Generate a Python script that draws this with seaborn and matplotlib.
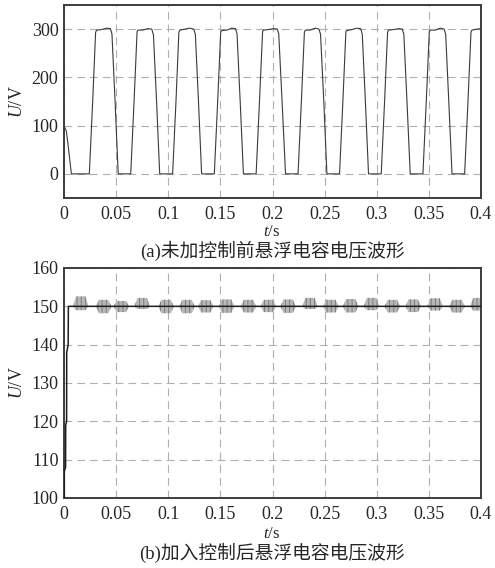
import numpy as np
import matplotlib
matplotlib.use("Agg")
import matplotlib.pyplot as plt
import seaborn as sns
import pandas as pd

# (a) waveform vertices: time in s, voltage in V
t_a = [0.0000, 0.0023, 0.0039, 0.0070, 0.0075,
       0.0243, 0.0275, 0.0303, 0.0312, 0.0360, 0.0410, 0.0445, 0.0460, 0.0490, 0.0520,
       0.0640, 0.0672, 0.0701, 0.0710, 0.0755, 0.0805, 0.0842, 0.0858, 0.0888, 0.0918,
       0.1042, 0.1074, 0.1102, 0.1112, 0.1160, 0.1208, 0.1244, 0.1260, 0.1290, 0.1320,
       0.1442, 0.1474, 0.1503, 0.1512, 0.1562, 0.1610, 0.1645, 0.1660, 0.1690, 0.1721,
       0.1843, 0.1875, 0.1905, 0.1913, 0.1960, 0.2010, 0.2046, 0.2060, 0.2092, 0.2125,
       0.2245, 0.2277, 0.2306, 0.2315, 0.2362, 0.2410, 0.2446, 0.2461, 0.2492, 0.2522,
       0.2643, 0.2675, 0.2704, 0.2713, 0.2760, 0.2810, 0.2846, 0.2861, 0.2891, 0.2921,
       0.3043, 0.3075, 0.3104, 0.3113, 0.3160, 0.3210, 0.3245, 0.3260, 0.3290, 0.3321,
       0.3443, 0.3475, 0.3504, 0.3513, 0.3560, 0.3610, 0.3646, 0.3661, 0.3691, 0.3722,
       0.3843, 0.3875, 0.3904, 0.3913, 0.3960, 0.4000]
u_a = [100, 88, 60, 2, 0,
       0, 150, 293, 298, 299, 302, 301, 290, 150, 0,
       0, 150, 295, 298, 298, 301, 300, 288, 150, 0,
       0, 150, 294, 298, 300, 302, 300, 289, 150, 0,
       0, 150, 294, 297, 298, 302, 301, 290, 150, 0,
       0, 150, 295, 298, 299, 301, 300, 290, 150, 0,
       0, 150, 294, 298, 298, 302, 300, 289, 150, 0,
       0, 150, 295, 297, 299, 302, 301, 290, 150, 0,
       0, 150, 294, 298, 299, 301, 300, 289, 150, 0,
       0, 150, 295, 298, 298, 302, 300, 290, 150, 0,
       0, 150, 294, 298, 300, 301]

# (b) start-up and settled level
t_b = [0.0000, 0.0003, 0.0003, 0.0015, 0.0016, 0.0025, 0.0026, 0.0040, 0.0042, 0.4000]
u_b = [100, 100, 107, 108, 119, 120, 138, 140, 150, 150]

# (b) ripple bursts around 150 V: centre time, top and bottom of envelope
burst_t = [0.016, 0.038, 0.055, 0.075, 0.098, 0.118, 0.136, 0.156, 0.177, 0.196,
           0.215, 0.236, 0.256, 0.275, 0.295, 0.315, 0.335, 0.356, 0.377, 0.397]
burst_hi = [152.6, 151.7, 151.4, 152.2, 151.7, 151.7, 151.6, 151.8, 151.7, 151.7,
            151.8, 152.2, 151.7, 151.9, 152.2, 151.7, 151.8, 152.1, 151.7, 152.2]
burst_lo = [149.0, 148.2, 148.5, 149.3, 148.2, 148.2, 148.4, 148.3, 148.4, 148.5,
            148.3, 149.3, 148.4, 148.4, 149.0, 148.4, 148.5, 148.9, 148.4, 148.9]

xticks = [0, 0.05, 0.1, 0.15, 0.2, 0.25, 0.3, 0.35, 0.4]
xlabels = ["0", "0.05", "0.1", "0.15", "0.2", "0.25", "0.3", "0.35", "0.4"]
yticks_a = [0, 100, 200, 300]
yticks_b = [100, 110, 120, 130, 140, 150, 160]
cap_a = "(a)未加控制前悬浮电容电压波形"
cap_b = "(b)加入控制后悬浮电容电压波形"

sns.set_style("white")
plt.rcParams["font.family"] = ["Liberation Serif", "Noto Sans CJK SC"]
plt.rcParams["mathtext.fontset"] = "custom"
plt.rcParams["mathtext.rm"] = "Liberation Serif"
plt.rcParams["mathtext.it"] = "Liberation Serif:italic"
plt.rcParams["hatch.linewidth"] = 0.7

fig = plt.figure(figsize=(4.95, 5.68), dpi=100)
ax1 = fig.add_axes([64 / 495, 1 - 198 / 568, 417 / 495, 193 / 568])
ax2 = fig.add_axes([64 / 495, 1 - 498 / 568, 417 / 495, 230 / 568])

df_a = pd.DataFrame({"t": t_a, "u": u_a})
sns.lineplot(data=df_a, x="t", y="u", ax=ax1, color="#3a3a3a", lw=0.8,
             estimator=None, sort=False)

w = 0.0075
for c, hi, lo in zip(burst_t, burst_hi, burst_lo):
    xs = [c - w, c - w * 0.6, c + w * 0.6, c + w]
    ax2.fill_between(xs, [150, hi, hi, 150], [150, lo, lo, 150],
                     facecolor="#b8b8b8", edgecolor="#7c7c7c", hatch="||||",
                     lw=0, zorder=2)
df_b = pd.DataFrame({"t": t_b, "u": u_b})
sns.lineplot(data=df_b, x="t", y="u", ax=ax2, color="#1e1e1e", lw=1.1,
             estimator=None, sort=False, zorder=3)

for ax, yt, ylim in [(ax1, yticks_a, (-50, 350)), (ax2, yticks_b, (100, 160))]:
    ax.set_xlim(0, 0.4)
    ax.set_ylim(*ylim)
    ax.set_xticks(xticks)
    ax.set_xticklabels(xlabels)
    ax.set_yticks(yt)
    ax.set_xlabel("")
    ax.set_ylabel(r"$U$/V", fontsize=13, labelpad=4)
    ax.grid(True, ls=(0, (7, 4.5)), color="#b0b0b0", lw=0.8)
    ax.tick_params(labelsize=13, length=2, direction="in", color="#555555")
    ax.tick_params(axis="x", pad=6)
    ax.tick_params(axis="y", pad=4)
    for s in ax.spines.values():
        s.set_color("#3c3c3c")
        s.set_linewidth(1.4)
        s.set_visible(True)

fig.text(272 / 495, 1 - 232 / 568, r"$t$/s", ha="center", va="center", fontsize=12)
fig.text(272 / 495, 1 - 251 / 568, cap_a, ha="center", va="center", fontsize=13.5)
fig.text(272 / 495, 1 - 534 / 568, r"$t$/s", ha="center", va="center", fontsize=12)
fig.text(272 / 495, 1 - 553 / 568, cap_b, ha="center", va="center", fontsize=13.5)

fig.savefig("out.png", dpi=100)
